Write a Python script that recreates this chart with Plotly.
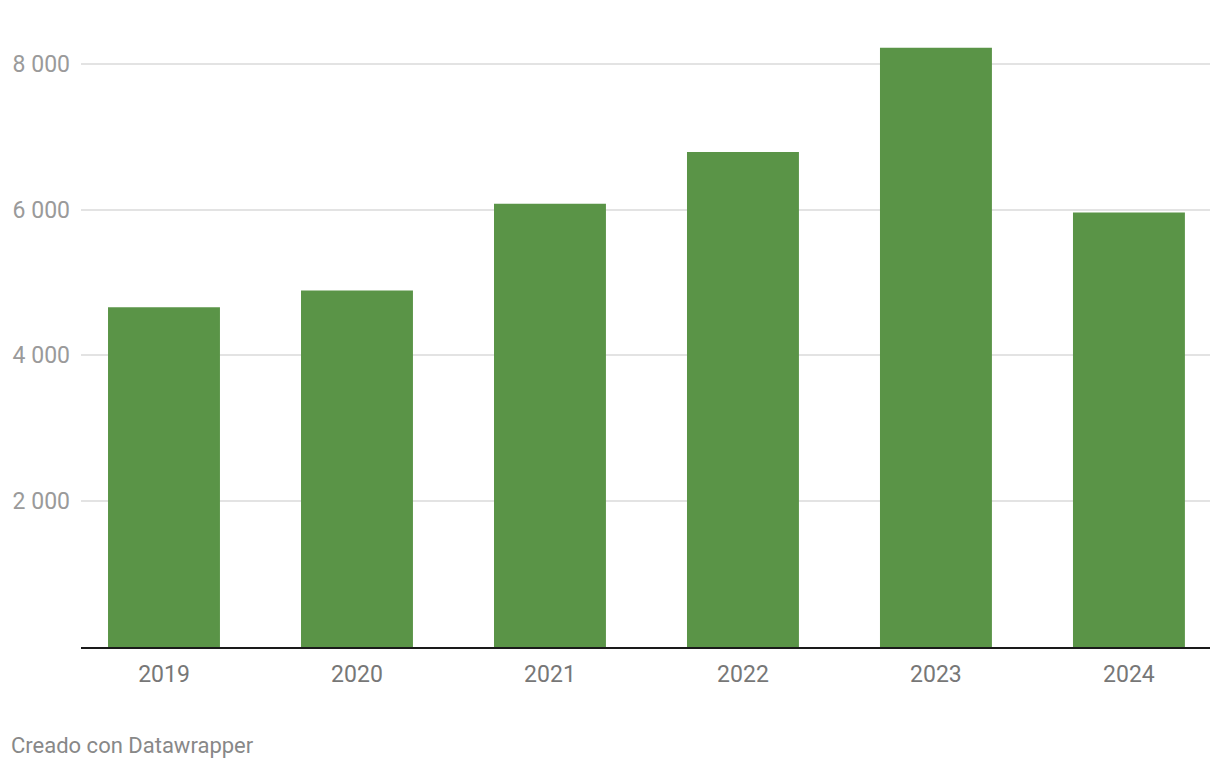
import plotly.graph_objects as go

years = ["2019", "2020", "2021", "2022", "2023", "2024"]
values = [4660, 4890, 6080, 6790, 8220, 5960]
y_ticks = [2000, 4000, 6000, 8000]
y_tick_labels = ["2 000", "4 000", "6 000", "8 000"]

fig = go.Figure(go.Bar(
    x=years, y=values, marker_color="#5a9447", marker_line_width=0, width=0.58,
    hoverinfo="x+y",
))

fig.update_layout(
    width=1220, height=770,
    margin=dict(l=81, r=10, t=42, b=123),
    paper_bgcolor="white", plot_bgcolor="white",
    font=dict(family="Roboto", size=23, color="#999999"),
    showlegend=False,
    xaxis=dict(
        type="category", range=[-0.43, 5.42],
        showline=True, linecolor="#1a1a1a", linewidth=2,
        ticks="", showgrid=False,
        tickfont=dict(size=23, color="#777777", family="Roboto"),
        ticklabelstandoff=5,
    ),
    yaxis=dict(
        range=[0, 8300], tickvals=y_ticks, ticktext=y_tick_labels,
        showgrid=True, gridcolor="#e3e3e3", gridwidth=2,
        zeroline=False, ticks="",
        tickfont=dict(size=23, color="#9a9a9a", family="Roboto"),
        ticklabelstandoff=10,
    ),
    annotations=[dict(
        text="Creado con Datawrapper", xref="paper", yref="paper",
        x=0, y=0, xanchor="left", yanchor="middle",
        xshift=-72, yshift=-98, showarrow=False,
        font=dict(family="Roboto", size=22, color="#888888"),
    )],
)

fig.write_html("out.html")
